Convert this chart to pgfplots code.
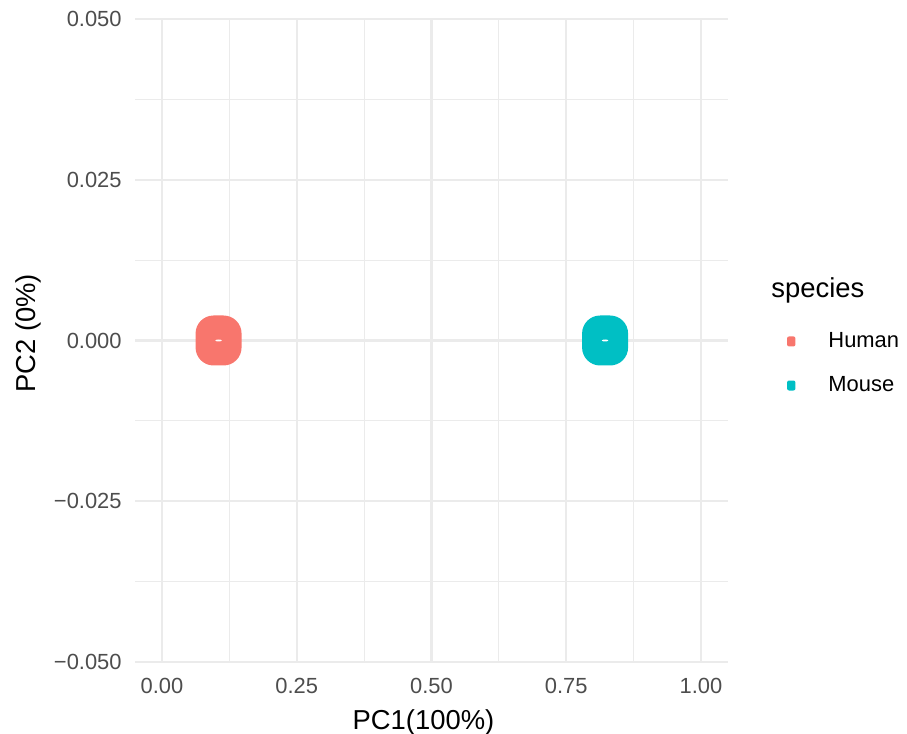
\documentclass[border=0pt]{standalone}
\usepackage{pgfplots}
\pgfplotsset{compat=1.18}
\usepackage{fontspec}
\setmainfont{Liberation Sans}
\definecolor{hum}{HTML}{F8766D}
\definecolor{mou}{HTML}{00BFC4}
\definecolor{gridc}{HTML}{EBEBEB}
\definecolor{tickc}{HTML}{4D4D4D}
\pgfdeclareplotmark{rsq}{%
  \pgfpathmoveto{\pgfpoint{-2.5bp}{-12.5bp}}%
  \pgfpathlineto{\pgfpoint{2.5bp}{-12.5bp}}%
  \pgfpathcurveto{\pgfpoint{7.47bp}{-12.5bp}}{\pgfpoint{11.5bp}{-8.47bp}}{\pgfpoint{11.5bp}{-3.5bp}}%
  \pgfpathlineto{\pgfpoint{11.5bp}{3.5bp}}%
  \pgfpathcurveto{\pgfpoint{11.5bp}{8.47bp}}{\pgfpoint{7.47bp}{12.5bp}}{\pgfpoint{2.5bp}{12.5bp}}%
  \pgfpathlineto{\pgfpoint{-2.5bp}{12.5bp}}%
  \pgfpathcurveto{\pgfpoint{-7.47bp}{12.5bp}}{\pgfpoint{-11.5bp}{8.47bp}}{\pgfpoint{-11.5bp}{3.5bp}}%
  \pgfpathlineto{\pgfpoint{-11.5bp}{-3.5bp}}%
  \pgfpathcurveto{\pgfpoint{-11.5bp}{-8.47bp}}{\pgfpoint{-7.47bp}{-12.5bp}}{\pgfpoint{-2.5bp}{-12.5bp}}%
  \pgfpathclose
  \pgfusepathqfill}
\pgfdeclareplotmark{dot}{%
  \pgfpathellipse{\pgfpointorigin}{\pgfpoint{1.6bp}{0bp}}{\pgfpoint{0bp}{0.5bp}}%
  \pgfusepathqfill}
\begin{document}
\begin{tikzpicture}
\path[use as bounding box] (0,0) rectangle (453.5bp,367bp);
\begin{axis}[
  scale only axis,
  width=296.5bp, height=321.5bp,
  at={(67.5bp,36bp)}, anchor=south west,
  xmin=-0.05, xmax=1.05, ymin=-0.05, ymax=0.05,
  axis line style={draw=none},
  major tick length=0pt, minor tick length=0pt,
  xtick={0,0.25,0.5,0.75,1},
  xticklabels={0.00,0.25,0.50,0.75,1.00},
  ytick={-0.05,-0.025,0,0.025,0.05},
  yticklabels={−0.050,−0.025,0.000,0.025,0.050},
  minor xtick={0.125,0.375,0.625,0.875},
  minor ytick={-0.0375,-0.0125,0.0125,0.0375},
  grid=both,
  major grid style={gridc, line width=1.1bp},
  minor grid style={gridc, line width=0.55bp},
  ticklabel style={font=\fontsize{11}{13}\selectfont, text=tickc},
  yticklabel style={inner sep=0pt, anchor=east, xshift=-6.5bp},
  xticklabel style={inner sep=0pt, anchor=north, yshift=-8bp},
  xlabel={PC1(100\%)},
  ylabel={PC2 (0\%)},
  label style={font=\fontsize{13.75}{16}\selectfont},
  xlabel style={at={(axis description cs:0.5,0)}, anchor=center, yshift=-30bp, xshift=-4bp},
  ylabel style={at={(axis description cs:0,0.5)}, anchor=center, yshift=53.5bp, xshift=3.5bp},
  clip=false,
  legend style={draw=none, fill=none, at={(axis description cs:1.0989, 0.5132)}, anchor=north west,
    font=\fontsize{11}{13}\selectfont, row sep=13bp, inner sep=0pt,
    legend cell align=left, nodes={inner sep=0pt}},
  legend image code/.code={\fill[#1, draw=none, rounded corners=1bp] (0bp,-2.5bp) rectangle (4.2bp,2.5bp);
    \path[draw=none, fill=none] (0bp,-0.1bp) rectangle (20.7bp,0.1bp);},
]
\addplot[only marks, mark=rsq, hum, fill=hum] coordinates {(0.105,0)};
\addlegendentry{Human}
\addplot[only marks, mark=rsq, mou, fill=mou] coordinates {(0.822,0)};
\addlegendentry{Mouse}
\addplot[only marks, mark=dot, white, forget plot] coordinates {(0.105,0) (0.822,0)};
\end{axis}
\node[anchor=base west, inner sep=0pt, font=\fontsize{13.75}{16}\selectfont] at (385.5bp,218bp) {species};
\end{tikzpicture}
\end{document}
